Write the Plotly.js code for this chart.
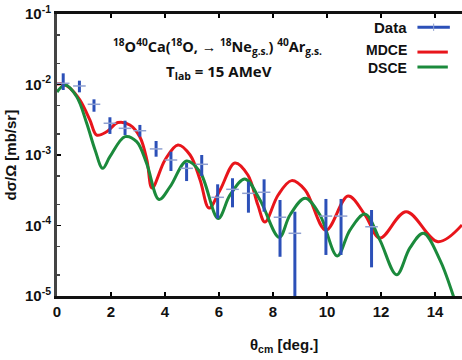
<!DOCTYPE html>
<html><head><meta charset="utf-8">
<script src="https://cdn.plot.ly/plotly-3.0.1.min.js"></script>
<style>body{margin:0;background:#fff}#c{width:462px;height:360px}</style>
</head><body><div id="c"></div>
<script>
// Data points (angle in deg., cross section in mb/sr)
const dataX  = [0.23, 0.83, 1.37, 1.96, 2.52, 3.07, 3.67, 4.22, 4.80, 5.36, 5.95, 6.50, 7.09, 7.67, 8.26, 8.81, 9.96, 10.52, 11.65];
const dataY  = [0.0104, 0.00953, 0.00524, 0.00282, 0.00239, 0.00221, 0.00122, 0.000849, 0.000647, 0.000738, 0.000251, 0.000326, 0.000286, 0.000296, 0.000131, 0.0000775, 0.000136, 0.000136, 0.000096];
const dataLo = [0.00836, 0.00774, 0.00411, 0.00199, 0.00192, 0.00182, 0.000946, 0.000593, 0.000427, 0.000503, 0.000126, 0.000181, 0.000152, 0.000157, 0.000036, 0.000009, 0.0000382, 0.0000382, 0.0000255];
const dataHi = [0.0144, 0.01133, 0.00616, 0.00343, 0.00307, 0.00267, 0.00158, 0.00111, 0.000771, 0.0010, 0.000384, 0.000468, 0.000418, 0.000452, 0.00023, 0.000157, 0.000238, 0.000238, 0.000166];

// MDCE curve
const mdceX = [0, 0.22, 0.48, 0.85, 1.22, 1.47, 1.84, 2.26, 2.70, 3.07, 3.33, 3.52, 4.0, 4.48, 4.93, 5.30, 5.63, 6.04, 6.59, 7.07, 7.44, 7.70, 8.19, 8.69, 9.19, 9.96, 10.78, 11.41, 11.96, 12.93, 14.11, 15.0];
const mdceY = [0.01016, 0.01016, 0.0089, 0.0060, 0.00313, 0.00192, 0.00214, 0.00289, 0.00267, 0.0018, 0.00085, 0.00034, 0.00085, 0.00139, 0.0010, 0.000442, 0.000177, 0.000319, 0.00077, 0.00052, 0.000195, 0.000112, 0.000271, 0.000433, 0.000319, 0.000086, 0.000262, 0.000141, 0.0000665, 0.000157, 0.000059, 0.000102];

// DSCE curve
const dsceX = [0, 0.30, 0.73, 1.10, 1.41, 1.69, 1.96, 2.52, 2.95, 3.32, 3.78, 4.19, 4.80, 5.30, 5.97, 6.41, 6.96, 7.52, 8.23, 8.63, 9.19, 9.74, 10.38, 10.85, 11.41, 11.96, 12.58, 13.07, 13.57, 14.19, 14.68, 14.85];
const dsceY = [0.00783, 0.00984, 0.00671, 0.00282, 0.00118, 0.000647, 0.000946, 0.00182, 0.00155, 0.000762, 0.000234, 0.000355, 0.000822, 0.000574, 0.000126, 0.000271, 0.000457, 0.00023, 0.000068, 0.000141, 0.000243, 0.000141, 0.000037, 0.000086, 0.000145, 0.000062, 0.00002, 0.000048, 0.0000776, 0.000032, 0.00001, 0.0000063];

const yTickVals = [1e-5, 1e-4, 1e-3, 1e-2, 1e-1];
const yTickText = ['10<sup>-5</sup>', '10<sup>-4</sup>', '10<sup>-3</sup>', '10<sup>-2</sup>', '10<sup>-1</sup>'];
const xTickVals = [0, 2, 4, 6, 8, 10, 12, 14];

const RED = '#e8151b', GREEN = '#1b8a3c', BLUE = '#2c50b8';

const traces = [
  {x: mdceX, y: mdceY, mode: 'lines', line: {color: RED, width: 3, shape: 'spline', smoothing: 1}, showlegend: false},
  {x: dsceX, y: dsceY, mode: 'lines', line: {color: GREEN, width: 3, shape: 'spline', smoothing: 1}, showlegend: false},
  {x: dataX, y: dataY, mode: 'markers', showlegend: false,
   marker: {symbol: 'line-ew', size: 9, color: '#8fa0d0', line: {color: '#8fa0d0', width: 1.5}},
   error_y: {type: 'data', symmetric: false,
     array: dataHi.map((h, i) => h - dataY[i]),
     arrayminus: dataLo.map((l, i) => dataY[i] - l),
     color: BLUE, thickness: 3, width: 0}}
];

const bold = 'Liberation Sans Narrow, Arial Narrow, Liberation Sans, Arial, sans-serif';
const titleFont = 'Open Sans, Liberation Sans, sans-serif';
const layout = {
  width: 462, height: 360,
  margin: {l: 57, r: 0, t: 14, b: 64},
  paper_bgcolor: '#fff', plot_bgcolor: '#fff',
  showlegend: false,
  xaxis: {range: [0, 15], tickvals: xTickVals, ticks: 'inside', ticklen: 4, tickwidth: 1.5, tickcolor: '#000',
          showline: true, linewidth: 3, linecolor: '#111', mirror: 'ticks', showgrid: false, zeroline: false,
          tickfont: {family: bold, size: 15, color: '#111', weight: 'bold'}},
  yaxis: {type: 'log', range: [-5, -1], tickvals: yTickVals, ticktext: yTickText, ticks: 'inside', ticklen: 4, tickwidth: 1.5,
          tickcolor: '#000', showline: true, linewidth: 3, linecolor: '#444', mirror: false, showgrid: false, zeroline: false,
          tickfont: {family: bold, size: 15, color: '#111', weight: 'bold'},
          minor: {ticks: 'inside', ticklen: 3, tickwidth: 1.5, tickcolor: '#444', tickvals: [2e-5, 5e-5, 2e-4, 5e-4, 2e-3, 5e-3, 2e-2, 5e-2], showgrid: false}},
  annotations: [
    {xref: 'paper', yref: 'paper', x: 0.397, y: 0.885, xanchor: 'center', yanchor: 'middle', showarrow: false,
     text: '<b><sup>18</sup>O<sup>40</sup>Ca(<sup>18</sup>O, \u2192 <sup>18</sup>Ne<sub>g.s.</sub>) <sup>40</sup>Ar<sub>g.s.</sub></b>',
     font: {family: titleFont, size: 14.5, color: '#111'}},
    {xref: 'paper', yref: 'paper', x: 0.40, y: 0.793, xanchor: 'center', yanchor: 'middle', showarrow: false,
     text: '<b>T<sub>lab</sub> = 15 AMeV</b>',
     font: {family: titleFont, size: 15, color: '#111'}},
    {xref: 'paper', yref: 'paper', x: 0.87, y: 0.953, xanchor: 'right', yanchor: 'middle', showarrow: false,
     text: '<b>Data</b>', font: {family: bold, size: 15, color: '#111'}},
    {xref: 'paper', yref: 'paper', x: 0.87, y: 0.872, xanchor: 'right', yanchor: 'middle', showarrow: false,
     text: '<b>MDCE</b>', font: {family: bold, size: 14, color: '#111'}},
    {xref: 'paper', yref: 'paper', x: 0.87, y: 0.81, xanchor: 'right', yanchor: 'middle', showarrow: false,
     text: '<b>DSCE</b>', font: {family: bold, size: 14, color: '#111'}},
    {xref: 'paper', yref: 'paper', x: 0.56, y: -0.175, xanchor: 'center', yanchor: 'middle', showarrow: false,
     text: '<b>\u03b8<sub>cm</sub> [deg.]</b>', font: {family: bold, size: 15, color: '#111'}},
    {xref: 'paper', yref: 'paper', x: -0.115, y: 0.5, xanchor: 'center', yanchor: 'middle', showarrow: false, textangle: -90,
     text: '<b>d\u03c3/\u03a9 [mb/sr]</b>', font: {family: bold, size: 15, color: '#111'}}
  ],
  shapes: [
    {type: 'line', xref: 'paper', yref: 'paper', x0: 0.89, x1: 0.97, y0: 0.953, y1: 0.953, line: {color: BLUE, width: 3}},
    {type: 'line', xref: 'paper', yref: 'paper', x0: 0.93, x1: 0.93, y0: 0.94, y1: 0.966, line: {color: '#8fa0d0', width: 1}},
    {type: 'line', xref: 'paper', yref: 'paper', x0: 0.89, x1: 0.965, y0: 0.865, y1: 0.865, line: {color: RED, width: 3}},
    {type: 'line', xref: 'paper', yref: 'paper', x0: 0.89, x1: 0.965, y0: 0.812, y1: 0.812, line: {color: GREEN, width: 3}}
  ]
};
Plotly.newPlot('c', traces, layout, {staticPlot: true, displayModeBar: false});
</script></body></html>
